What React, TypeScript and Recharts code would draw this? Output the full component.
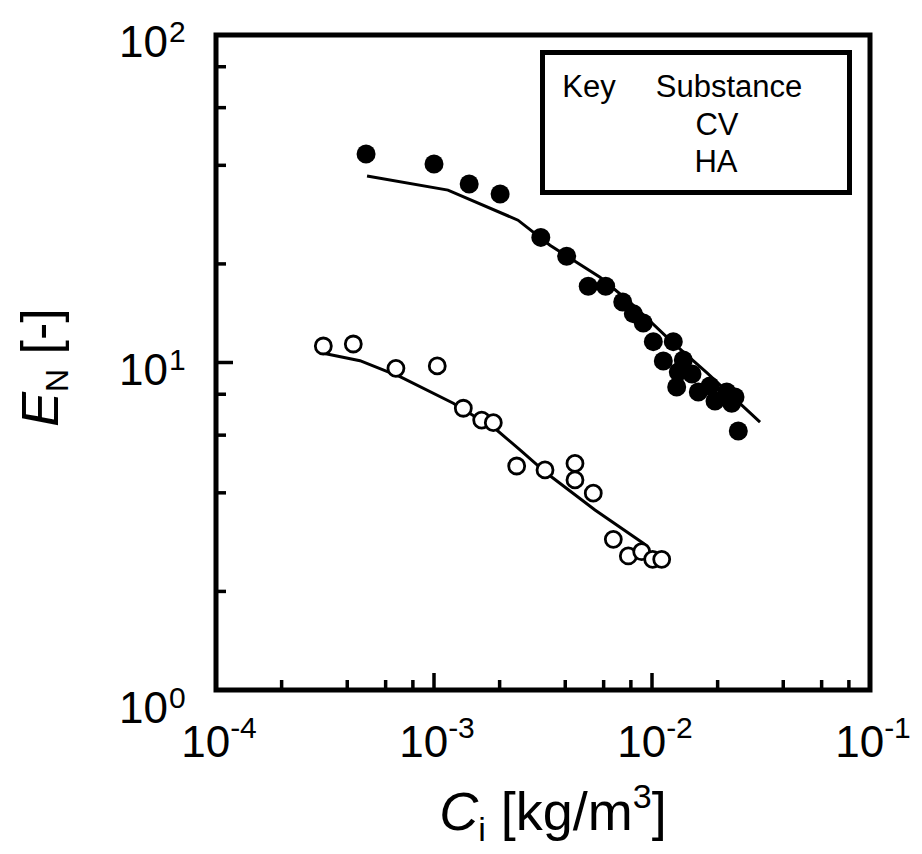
import React from 'react';
import { ComposedChart, Scatter, XAxis, YAxis, ReferenceArea, Legend } from 'recharts';

// ---- data ----
const cvConc = [4.88e-4, 1.0e-3, 1.45e-3, 2.01e-3, 3.09e-3, 4.06e-3, 5.1e-3, 6.13e-3, 7.34e-3, 8.21e-3, 9.12e-3, 1.014e-2, 1.252e-2, 1.127e-2, 1.392e-2, 1.32e-2, 1.526e-2, 1.298e-2, 1.631e-2, 1.845e-2, 1.945e-2, 2.202e-2, 2.403e-2, 2.32e-2, 2.488e-2];
const cvEN = [43.3, 40.4, 35.1, 32.7, 24.1, 21.1, 17.1, 17.1, 15.3, 14.1, 13.2, 11.58, 11.58, 10.1, 10.18, 9.35, 9.22, 8.42, 8.13, 8.48, 7.63, 8.13, 7.85, 7.51, 6.18];

const cvFitConc = [4.93e-4, 1.159e-3, 2.428e-3, 3.404e-3, 5.776e-3, 7.92e-3, 1.209e-2, 1.788e-2, 3.13e-2];
const cvFitEN = [37.1, 33.6, 27.2, 22.8, 18.2, 15.3, 11.7, 9.29, 6.58];

const haConc = [3.107e-4, 4.264e-4, 6.69e-4, 1.035e-3, 1.363e-3, 1.655e-3, 1.871e-3, 2.395e-3, 3.23e-3, 4.433e-3, 4.433e-3, 5.378e-3, 6.646e-3, 7.787e-3, 8.97e-3, 1.007e-2, 1.108e-2];
const haEN = [11.23, 11.39, 9.6, 9.76, 7.25, 6.67, 6.55, 4.83, 4.7, 4.92, 4.38, 3.99, 2.885, 2.566, 2.644, 2.506, 2.506];

const haFitConc = [3.107e-4, 4.576e-4, 6.98e-4, 1.226e-3, 1.94e-3, 2.48e-3, 3.289e-3, 5.476e-3, 9.12e-3, 9.48e-3];
const haFitEN = [10.67, 10.13, 9.05, 7.51, 6.22, 5.41, 4.59, 3.545, 2.805, 2.75];

const xTicks = [1e-4, 2e-4, 4e-4, 6e-4, 8e-4, 1e-3, 2e-3, 4e-3, 6e-3, 8e-3, 1e-2, 2e-2, 4e-2, 6e-2, 8e-2, 1e-1];
const yTicks = [1, 2, 4, 6, 8, 10, 20, 40, 60, 80, 100];

const legendHeader = ['Key', 'Substance'];
const seriesNames = ['CV', 'HA'];

const zip = (xs: number[], ys: number[]) => xs.map((x, i) => ({ x, y: ys[i] }));
const cvPoints = zip(cvConc, cvEN);
const cvFit = zip(cvFitConc, cvFitEN);
const haPoints = zip(haConc, haEN);
const haFit = zip(haFitConc, haFitEN);

const FONT = '"Liberation Sans", Arial, Helvetica, sans-serif';

const isMajor = (v: number) => Math.abs(Math.log10(v) - Math.round(Math.log10(v))) < 1e-6;

const XTick = (props: any) => {
  const { x, y, payload } = props;
  const v = payload.value;
  const major = isMajor(v);
  const e = Math.round(Math.log10(v));
  return (
    <g>
      <line x1={x} y1={y} x2={x} y2={y - (major ? 17 : 10)} stroke="#000" strokeWidth={3.5} />
      {major && (
        <text x={x + 3} y={y + 67} textAnchor="middle" fontSize={44} fontFamily={FONT} fill="#000">
          10<tspan fontSize={30} dy={-19}>{e}</tspan>
        </text>
      )}
    </g>
  );
};

const YTick = (props: any) => {
  const { x, y, payload } = props;
  const v = payload.value;
  const major = isMajor(v);
  const e = Math.round(Math.log10(v));
  const base = y + (v === 1 ? 33 : 22);
  return (
    <g>
      <line x1={x} y1={y} x2={x + (major ? 17 : 10)} y2={y} stroke="#000" strokeWidth={3.5} />
      {major && (
        <g fontFamily={FONT} fill="#000">
          <text x={x - 48} y={base} textAnchor="end" fontSize={44}>10</text>
          <text x={x - 47} y={base - 15} textAnchor="start" fontSize={30}>{e}</text>
        </g>
      )}
    </g>
  );
};

const XTitle = (props: any) => {
  const { viewBox } = props;
  const cx = viewBox.x + viewBox.width / 2 + 10;
  const by = viewBox.y + 140;
  return (
    <text x={cx} y={by} textAnchor="middle" fontSize={54} fontFamily={FONT} fill="#000">
      <tspan fontStyle="italic">C</tspan>
      <tspan fontSize={34} dy={11}>i</tspan>
      <tspan dy={-11}>{' [kg/m'}</tspan>
      <tspan fontSize={34} dy={-22}>3</tspan>
      <tspan dy={22}>]</tspan>
    </text>
  );
};

const YTitle = (props: any) => {
  const { viewBox } = props;
  const bx = viewBox.x + 30;
  const cy = viewBox.y + viewBox.height / 2 + 5;
  return (
    <text x={bx} y={cy} transform={`rotate(-90 ${bx} ${cy})`} textAnchor="middle" fontSize={52} fontFamily={FONT} fill="#000">
      <tspan fontStyle="italic">E</tspan>
      <tspan fontSize={32} dy={10}>N</tspan>
      <tspan dy={-10}>{' [-]'}</tspan>
    </text>
  );
};

const LegendBox = () => (
  <svg width={312} height={145} style={{ display: 'block' }}>
    <rect x={2.5} y={2.5} width={307} height={140} fill="#fff" stroke="#000" strokeWidth={5} />
    <g fontFamily={FONT} fontSize={31} fill="#000" textAnchor="middle">
      <text x={49} y={47}>{legendHeader[0]}</text>
      <text x={189} y={47}>{legendHeader[1]}</text>
      <text x={177} y={85}>{seriesNames[0]}</text>
      <text x={176} y={122}>{seriesNames[1]}</text>
    </g>
  </svg>
);

const FilledDot = (props: any) => <circle cx={props.cx} cy={props.cy} r={9.5} fill="#000" />;
const OpenDot = (props: any) => <circle cx={props.cx} cy={props.cy} r={8} fill="#fff" stroke="#000" strokeWidth={2.8} />;
const NoDot = () => <g />;

export default function App() {
  return (
    <ComposedChart width={912} height={846} margin={{ top: 27, right: 50, left: 20, bottom: 36 }}>
      <XAxis
        type="number"
        dataKey="x"
        scale="log"
        domain={[1e-4, 1e-1]}
        allowDataOverflow
        ticks={xTicks}
        interval={0}
        axisLine={false}
        tickLine={false}
        tickSize={0}
        tickMargin={0}
        height={128}
        tick={<XTick />}
        label={{ content: <XTitle /> }}
      />
      <YAxis
        type="number"
        dataKey="y"
        scale="log"
        domain={[1, 100]}
        allowDataOverflow
        ticks={yTicks}
        interval={0}
        axisLine={false}
        tickLine={false}
        tickSize={0}
        tickMargin={0}
        width={188}
        tick={<YTick />}
        label={{ content: <YTitle /> }}
      />
      <ReferenceArea x1={1e-4} x2={1e-1} y1={1} y2={100} fill="none" fillOpacity={0} stroke="#000" strokeWidth={5} ifOverflow="visible" />
      <Scatter name="CV fit" data={cvFit} line={{ stroke: '#000', strokeWidth: 3 }} shape={<NoDot />} isAnimationActive={false} />
      <Scatter name="HA fit" data={haFit} line={{ stroke: '#000', strokeWidth: 3 }} shape={<NoDot />} isAnimationActive={false} />
      <Scatter name={seriesNames[0]} data={cvPoints} shape={<FilledDot />} isAnimationActive={false} />
      <Scatter name={seriesNames[1]} data={haPoints} shape={<OpenDot />} isAnimationActive={false} />
      <Legend
        layout="vertical"
        align="center"
        verticalAlign="middle"
        wrapperStyle={{ left: 532, top: 42, width: 312, height: 145 }}
        content={() => <LegendBox />}
      />
    </ComposedChart>
  );
}
